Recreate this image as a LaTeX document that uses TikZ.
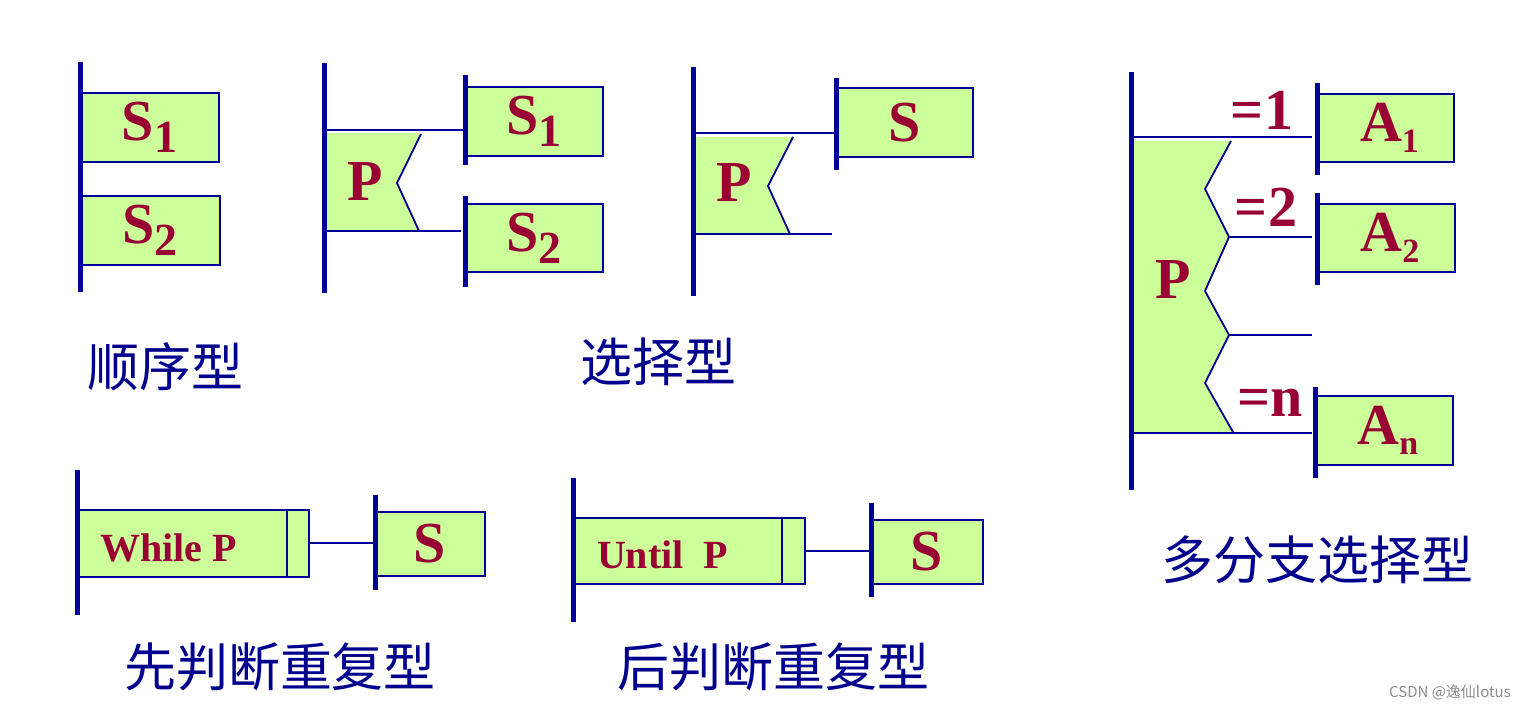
\documentclass[tikz,border=0pt]{standalone}
\usepackage{fontspec}
\setmainfont{Liberation Serif}
\newfontfamily\cjk{Noto Sans CJK SC}
\usetikzlibrary{fit}
\definecolor{barblue}{RGB}{0,0,153}
\definecolor{boxgreen}{RGB}{204,255,153}
\definecolor{wine}{RGB}{153,0,51}
\definecolor{titleblue}{RGB}{0,0,140}
\tikzset{
  bar/.style={draw=barblue, line width=2.5pt},
  wire/.style={draw=barblue, line width=0.9pt},
  box/.style={draw=barblue, line width=1pt, fill=boxgreen, inner sep=0pt},
  sym/.style={text=wine, font=\bfseries\fontsize{29}{30}\selectfont},
  cond/.style={text=wine, font=\bfseries\fontsize{20}{22}\selectfont, anchor=west},
  title/.style={text=titleblue, font=\cjk\fontsize{26}{28}\selectfont},
}
\newcommand{\bigsub}[2]{#1\raisebox{-0.45ex}{\fontsize{23}{23}\selectfont #2}}
\newcommand{\smallsub}[2]{#1\raisebox{-0.4ex}{\fontsize{17}{17}\selectfont #2}}
\begin{document}
\begin{tikzpicture}[x=0.5pt, y=-0.5pt]
\useasboundingbox (0,0) rectangle (1533,711);

% sequence
\node[box, fit={(80,93) (219,162)}] (seqa) {};
\node[box, fit={(80,196) (220,265)}] (seqb) {};
\node[sym] at (seqa) {\bigsub{S}{1}};
\node[sym] at (seqb) {\bigsub{S}{2}};
\draw[bar] (80,62) -- (80,292);
\node[title] (seqt) at (165,367) {顺序型};

% selection, two branches
\fill[boxgreen] (327,133) -- (421,133) -- (397,183) -- (419,231) -- (327,231) -- cycle;
\draw[wire] (421,134) -- (397,183) -- (419,231);
\node[sym] (selp) at (365,182) {P};
\node[box, fit={(465,87) (603,156)}] (sela) {};
\node[box, fit={(465,204) (603,272)}] (selb) {};
\node[sym] at (sela) {\bigsub{S}{1}};
\node[sym] at (selb) {\bigsub{S}{2}};
\coordinate (selatop) at (465,75);
\coordinate (selabot) at (465,165);
\coordinate (selbtop) at (465,196);
\coordinate (selbbot) at (465,287);
\draw[wire] (322,130) -- (selatop |- 0,130);
\draw[wire] (324,231) -- (461,231);
\draw[bar] (324,63) -- (324,293);
\draw[bar] (selatop) -- (selabot);
\draw[bar] (selbtop) -- (selbbot);

% selection, one branch
\fill[boxgreen] (696,137) -- (793,137) -- (768,186) -- (790,234) -- (696,234) -- cycle;
\draw[wire] (793,137) -- (768,186) -- (790,234);
\node[sym] (onep) at (734,183) {P};
\node[box, fit={(836,88) (973,157)}] (ones) {};
\node[sym] at (ones) {S};
\coordinate (onestop) at (836,78);
\coordinate (onesbot) at (836,170);
\draw[wire] (693,133) -- (onestop |- 0,133);
\draw[wire] (693,234) -- (832,234);
\draw[bar] (693,67) -- (693,296);
\draw[bar] (onestop) -- (onesbot);
\node[title] (selt) at (658,362) {选择型};

% multiple branches
\fill[boxgreen] (1133,141) -- (1231,141) -- (1205,189) -- (1229,237) -- (1205,291)
  -- (1229,335) -- (1205,383) -- (1233,432) -- (1133,432) -- cycle;
\draw[wire] (1231,141) -- (1205,189) -- (1229,237) -- (1205,291)
  -- (1229,335) -- (1205,383) -- (1233,432);
\node[sym] (mulp) at (1173,280) {P};
\node[box, fit={(1317,94) (1454,162)}] (mula) {};
\node[box, fit={(1317,204) (1455,272)}] (mulb) {};
\node[box, fit={(1315,396) (1453,465)}] (muln) {};
\node[sym] at ([xshift=2pt]mula) {\smallsub{A}{1}};
\node[sym] at ([xshift=2pt]mulb) {\smallsub{A}{2}};
\node[sym] at ([xshift=2pt]muln) {\smallsub{A}{n}};
\draw[wire] (1133,137) -- (1312,137);
\draw[wire] (1229,237) -- (1312,237);
\draw[wire] (1229,335) -- (1312,335);
\draw[wire] (1133,433) -- (1312,433);
\node[sym] (eqa) at (1262,110) {=1};
\node[sym] (eqb) at (1266,207) {=2};
\node[sym] (eqn) at (1270,403) {=n};
\draw[bar] (1131,72) -- (1131,490);
\draw[bar] (1317,83) -- (1317,175);
\draw[bar] (1317,193) -- (1317,285);
\draw[bar] (1315,387) -- (1315,478);
\node[title] (mult) at (1317,560) {多分支选择型};

% while loop
\node[box, fit={(77,510) (309,577)}] (whl) {};
\draw[wire] (287,510) -- (287,577);
\node[cond] at (93,548) {While P};
\node[box, fit={(375,512) (485,576)}] (whls) {};
\node[sym] at (whls) {S};
\draw[wire] (whl.east |- 0,543) -- (whls.west |- 0,543);
\draw[bar] (77,470) -- (77,615);
\draw[bar] (375,495) -- (375,590);
\node[title] (whlt) at (280,667) {先判断重复型};

% until loop
\node[box, fit={(573,518) (805,584)}] (unt) {};
\draw[wire] (782,518) -- (782,584);
\node[cond] at (590,555) {Until\enspace P};
\node[box, fit={(871,520) (983,584)}] (unts) {};
\node[sym] at (unts) {S};
\draw[wire] (unt.east |- 0,551) -- (unts.west |- 0,551);
\draw[bar] (573,478) -- (573,622);
\draw[bar] (871,503) -- (871,597);
\node[title] (untt) at (773,667) {后判断重复型};

\node[text=black!45, font=\cjk\fontsize{7.5}{8}\selectfont] (mark) at (1450,692) {CSDN @逸仙lotus};
\end{tikzpicture}
\end{document}
